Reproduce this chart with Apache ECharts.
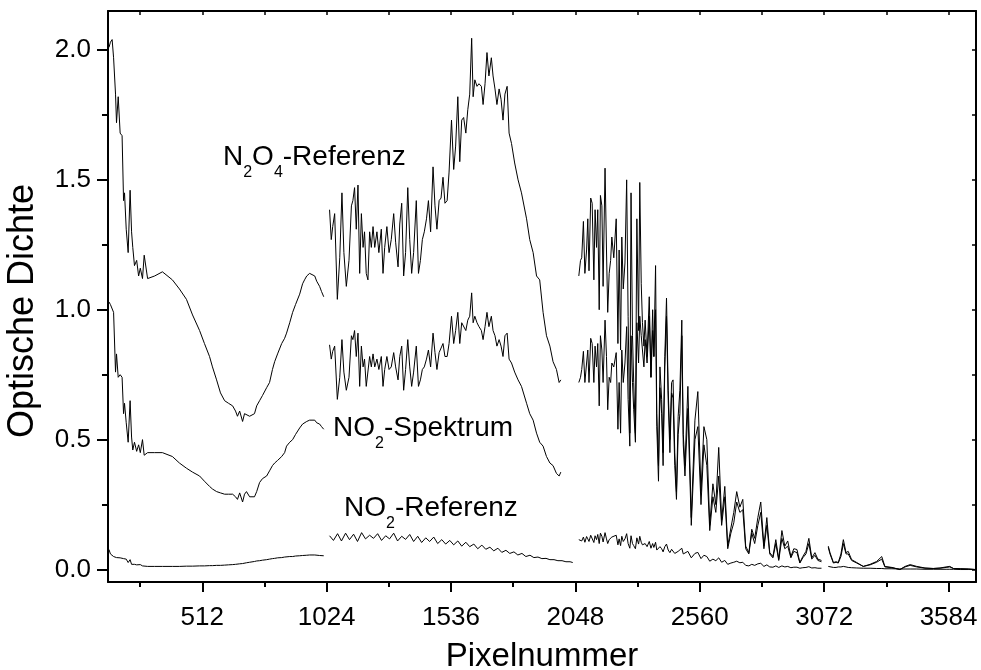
<!DOCTYPE html>
<html><head><meta charset="utf-8">
<script src="https://cdn.jsdelivr.net/npm/echarts@6/dist/echarts.min.js"></script>
<style>html,body{margin:0;padding:0;background:#fff}#c{width:981px;height:670px}</style>
</head><body><div id="c"></div>
<script>
// ---- tick labels ----
const xTickLabels = [512, 1024, 1536, 2048, 2560, 3072, 3584];
const xMinorTicks = [256, 768, 1280, 1792, 2304, 2816, 3328];
const yTickLabels = [0, 0.5, 1.0, 1.5, 2.0];
const yMinorTicks = [0.25, 0.75, 1.25, 1.75];

// ---- segment 1 ----
const seg1X = [128,134,141,147,155,159,166,174,182,188,192,199,207,215,221,226,233,242,250,257,266,273,287,316,348,389,418,447,472,501,521,542,554,571,587,604,620,637,649,657,666,678,686,694,707,715,727,736,748,760,777,789,801,810,822,839,851,859,872,884,896,913,925,933,942,954,962,975,983,995,1003,1012];
const n2o4Seg1 = [2.01,2.03,2.04,1.97,1.83,1.72,1.82,1.68,1.67,1.42,1.45,1.31,1.22,1.46,1.30,1.24,1.17,1.19,1.13,1.16,1.12,1.21,1.12,1.13,1.146,1.115,1.08,1.04,0.98,0.92,0.87,0.82,0.78,0.73,0.68,0.65,0.64,0.63,0.61,0.59,0.61,0.57,0.60,0.60,0.59,0.585,0.60,0.63,0.65,0.67,0.70,0.72,0.77,0.80,0.83,0.87,0.89,0.91,0.95,0.99,1.02,1.06,1.10,1.115,1.13,1.14,1.135,1.13,1.11,1.09,1.07,1.05];
const no2SpekSeg1 = [1.03,1.02,1.02,0.99,0.76,0.83,0.74,0.75,0.74,0.60,0.64,0.565,0.49,0.65,0.51,0.46,0.49,0.455,0.48,0.45,0.50,0.44,0.45,0.45,0.45,0.435,0.41,0.39,0.375,0.36,0.34,0.32,0.31,0.30,0.295,0.29,0.29,0.29,0.28,0.27,0.295,0.26,0.29,0.30,0.28,0.28,0.28,0.30,0.335,0.35,0.36,0.38,0.40,0.41,0.42,0.435,0.45,0.475,0.49,0.50,0.52,0.545,0.56,0.565,0.57,0.575,0.575,0.575,0.565,0.56,0.55,0.54];
const no2RefSeg1 = [0.077,0.06,0.055,0.05,0.05,0.046,0.042,0.045,0.038,0.042,0.035,0.04,0.027,0.038,0.02,0.019,0.02,0.018,0.016,0.019,0.014,0.012,0.012,0.012,0.012,0.012,0.012,0.013,0.013,0.014,0.014,0.015,0.015,0.016,0.016,0.017,0.018,0.019,0.02,0.021,0.022,0.023,0.025,0.026,0.028,0.03,0.031,0.033,0.034,0.036,0.038,0.04,0.042,0.043,0.045,0.046,0.048,0.049,0.05,0.05,0.052,0.053,0.054,0.055,0.055,0.056,0.055,0.056,0.055,0.054,0.055,0.053];

// ---- segment 2 ----
const seg2X = [1036,1043,1049,1057,1068,1078,1087,1095,1105,1116,1126,1132,1139,1146,1153,1160,1167,1174,1180,1187,1194,1201,1208,1215,1222,1231,1239,1249,1256,1263,1272,1281,1290,1300,1308,1318,1325,1333,1341,1349,1358,1366,1374,1382,1393,1402,1410,1418,1426,1435,1443,1452,1462,1470,1478,1487,1495,1503,1511,1520,1528,1538,1547,1555,1564,1572,1580,1588,1597,1605,1613,1621,1627,1634,1643,1651,1661,1668,1676,1684,1692,1702,1709,1717,1725,1734,1742,1750,1758,1767,1775,1785,1798,1812,1826,1847,1860,1874,1888,1901,1915,1929,1943,1956,1970,1981,1988];
const n2o4Seg2 = [1.385,1.27,1.32,1.37,1.04,1.20,1.45,1.22,1.09,1.19,1.40,1.42,1.47,1.31,1.48,1.14,1.37,1.24,1.30,1.14,1.115,1.30,1.24,1.32,1.24,1.30,1.22,1.31,1.14,1.24,1.32,1.22,1.27,1.37,1.26,1.165,1.33,1.41,1.13,1.22,1.47,1.27,1.14,1.22,1.42,1.14,1.19,1.27,1.30,1.35,1.42,1.30,1.55,1.40,1.31,1.42,1.43,1.51,1.41,1.42,1.53,1.73,1.54,1.63,1.82,1.57,1.73,1.74,1.68,1.77,1.83,2.045,1.82,1.885,1.86,1.87,1.86,1.79,1.87,1.99,1.90,1.97,1.90,1.85,1.79,1.85,1.81,1.73,1.83,1.86,1.68,1.64,1.565,1.50,1.45,1.35,1.27,1.22,1.13,1.115,0.99,0.90,0.86,0.80,0.77,0.72,0.73];
const no2SpekSeg2 = [0.865,0.81,0.84,0.86,0.655,0.74,0.885,0.76,0.69,0.74,0.90,0.885,0.92,0.82,0.91,0.705,0.86,0.78,0.81,0.705,0.705,0.82,0.78,0.83,0.78,0.81,0.77,0.82,0.705,0.77,0.82,0.77,0.78,0.835,0.78,0.73,0.82,0.86,0.69,0.77,0.885,0.78,0.705,0.76,0.86,0.705,0.73,0.77,0.78,0.81,0.845,0.78,0.91,0.835,0.77,0.835,0.835,0.87,0.82,0.82,0.87,0.975,0.87,0.92,0.99,0.87,0.95,0.95,0.92,0.96,0.975,1.065,0.95,0.975,0.95,0.935,0.92,0.885,0.935,0.99,0.935,0.975,0.92,0.90,0.86,0.885,0.86,0.82,0.90,0.91,0.81,0.795,0.76,0.73,0.705,0.64,0.60,0.575,0.525,0.49,0.475,0.435,0.41,0.40,0.37,0.36,0.375];
const seg2RefX = [1036,1052,1069,1085,1102,1118,1135,1151,1168,1184,1201,1217,1234,1250,1267,1283,1300,1316,1333,1349,1366,1382,1399,1415,1432,1448,1465,1481,1498,1514,1531,1547,1564,1580,1597,1613,1630,1646,1663,1679,1696,1712,1729,1745,1762,1778,1795,1811,1828,1844,1861,1877,1894,1910,1927,1943,1960,1976,1993,2009,2026,2037];
const no2RefSeg2 = [0.13,0.112,0.138,0.11,0.14,0.115,0.136,0.108,0.142,0.118,0.132,0.12,0.138,0.112,0.13,0.118,0.14,0.11,0.128,0.116,0.135,0.108,0.128,0.104,0.122,0.108,0.125,0.1,0.115,0.098,0.112,0.095,0.11,0.09,0.105,0.088,0.098,0.08,0.094,0.078,0.086,0.072,0.082,0.066,0.074,0.062,0.068,0.056,0.062,0.05,0.055,0.046,0.048,0.042,0.043,0.038,0.038,0.034,0.034,0.03,0.03,0.027];

// ---- segment 3 ----
const seg3X = [2062,2069,2074,2081,2087,2094,2099,2104,2111,2117,2124,2129,2135,2140,2146,2151,2157,2162,2170,2176,2181,2187,2193,2198,2206,2216,2223,2228,2234,2239,2245,2252,2259,2265,2272,2277,2283,2288,2295,2301,2308,2313,2319,2324,2330,2335,2343,2352,2359,2366,2371,2378,2383,2390,2396,2403,2409,2416,2423,2430,2437,2444,2450,2457,2464,2471,2478,2486,2492,2499,2511,2525,2540,2552,2565,2577,2589,2601,2614,2626,2638,2650,2663,2675,2688,2700,2712,2725,2737,2749,2762,2774,2786,2799,2811,2824,2836,2848,2861,2873,2885,2898,2910,2922,2935,2947,2960,2972,2984,2997,3009,3021,3034,3046,3061];
const n2o4Seg3 = [1.13,1.19,1.20,1.34,1.14,1.23,1.35,1.15,1.43,1.41,1.115,1.385,1.24,1.385,1.0,1.44,1.40,1.09,1.545,1.23,0.99,1.14,1.19,1.28,1.20,1.35,0.87,1.23,0.845,1.28,1.08,1.18,1.50,0.975,0.525,1.45,0.90,0.72,0.525,1.35,0.92,1.49,1.10,0.95,0.86,0.96,0.82,1.05,0.74,1.0,0.82,1.17,0.60,0.40,0.78,0.655,0.45,0.82,1.045,0.69,0.50,0.72,0.73,0.45,0.30,0.59,0.69,0.96,0.52,0.40,0.705,0.20,0.575,0.685,0.30,0.55,0.50,0.17,0.33,0.25,0.47,0.19,0.32,0.09,0.16,0.22,0.30,0.24,0.27,0.09,0.065,0.155,0.12,0.20,0.26,0.09,0.20,0.065,0.05,0.115,0.04,0.15,0.09,0.11,0.05,0.08,0.077,0.027,0.05,0.07,0.12,0.045,0.065,0.04,0.035];
const no2SpekSeg3 = [0.72,0.74,0.77,0.84,0.72,0.795,0.845,0.72,0.89,0.87,0.72,0.86,0.78,0.87,0.63,0.90,0.845,0.72,0.96,0.82,0.615,0.74,0.72,0.795,0.78,0.835,0.54,0.72,0.525,0.845,0.72,0.795,0.935,0.655,0.475,0.90,0.72,0.615,0.49,0.95,0.795,0.975,0.90,0.845,0.78,0.885,0.795,0.975,0.74,0.92,0.82,1.0,0.55,0.34,0.70,0.60,0.40,0.78,0.975,0.65,0.45,0.68,0.66,0.40,0.27,0.52,0.60,0.90,0.48,0.36,0.62,0.17,0.50,0.55,0.25,0.48,0.40,0.15,0.28,0.22,0.36,0.17,0.28,0.08,0.14,0.18,0.26,0.22,0.23,0.08,0.06,0.14,0.10,0.17,0.22,0.08,0.17,0.06,0.045,0.10,0.035,0.12,0.08,0.09,0.045,0.07,0.065,0.025,0.045,0.06,0.10,0.04,0.055,0.035,0.03];
const no2RefSeg3 = [0.115,0.12,0.11,0.125,0.105,0.127,0.118,0.108,0.132,0.125,0.104,0.13,0.115,0.135,0.1,0.14,0.128,0.106,0.142,0.118,0.1,0.115,0.12,0.125,0.118,0.132,0.095,0.118,0.092,0.128,0.108,0.118,0.138,0.1,0.082,0.13,0.1,0.092,0.08,0.122,0.098,0.128,0.105,0.095,0.09,0.1,0.088,0.108,0.082,0.1,0.085,0.105,0.075,0.068,0.088,0.08,0.068,0.088,0.098,0.075,0.065,0.078,0.076,0.062,0.055,0.07,0.072,0.082,0.06,0.055,0.07,0.045,0.062,0.066,0.042,0.055,0.05,0.032,0.04,0.034,0.045,0.028,0.035,0.02,0.025,0.028,0.032,0.026,0.028,0.016,0.014,0.02,0.016,0.022,0.024,0.012,0.018,0.01,0.009,0.014,0.008,0.014,0.01,0.012,0.007,0.009,0.009,0.005,0.007,0.008,0.011,0.006,0.007,0.005,0.005];

// ---- segment 4 ----
const seg4X = [3089,3096,3110,3121,3130,3141,3151,3162,3171,3185,3206,3233,3261,3288,3309,3322,3351,3384,3405,3426,3453,3487,3521,3549,3574,3589,3604,3632,3665,3695];
const n2o4Seg4 = [0.09,0.065,0.027,0.03,0.027,0.06,0.115,0.065,0.07,0.038,0.027,0.012,0.02,0.031,0.05,0.012,0.008,0.0,0.012,0.019,0.012,0.006,0.004,0.006,0.01,0.012,0.004,0.003,0.002,0.0];
const no2SpekSeg4 = [0.085,0.06,0.025,0.028,0.025,0.05,0.10,0.06,0.06,0.035,0.025,0.012,0.018,0.028,0.04,0.01,0.007,0.0,0.01,0.016,0.01,0.005,0.004,0.005,0.008,0.01,0.004,0.003,0.002,0.0];
const no2RefSeg4 = [0.012,0.01,0.008,0.008,0.01,0.01,0.012,0.01,0.008,0.007,0.006,0.005,0.005,0.004,0.004,0.003,0.003,0.002,0.002,0.002,0.002,0.001,0.001,0.001,0.001,0.001,0.001,0.0,0.0,0.0];

// ---- build ----
const FONT = 'Liberation Sans, Arial, sans-serif';
const X_MIN = 124, X_MAX = 3697, Y_MIN = -0.048, Y_MAX = 2.15;
function pairs(xs, ys) { return xs.map((x, i) => [x, ys[i]]); }
const parts = [
  [seg1X, n2o4Seg1], [seg2X, n2o4Seg2], [seg3X, n2o4Seg3], [seg4X, n2o4Seg4],
  [seg1X, no2SpekSeg1], [seg2X, no2SpekSeg2], [seg3X, no2SpekSeg3], [seg4X, no2SpekSeg4],
  [seg1X, no2RefSeg1], [seg2RefX, no2RefSeg2], [seg3X, no2RefSeg3], [seg4X, no2RefSeg4]
];
const series = parts.map(p => ({
  type: 'line', xAxisIndex: 0, yAxisIndex: 0, data: pairs(p[0], p[1]),
  symbol: 'none', showSymbol: false, silent: true, animation: false,
  lineStyle: { color: '#000', width: 1 }
}));
const lineStyle = { color: '#000', width: 2 };
const allYTicks = [0, 0.25, 0.5, 0.75, 1.0, 1.25, 1.5, 1.75, 2.0];
const allXTicks = [256, 512, 768, 1024, 1280, 1536, 1792, 2048, 2304, 2560, 2816, 3072, 3328, 3584];

const richStyle = {
  a: { fontSize: 28, fontFamily: FONT, lineHeight: 28, verticalAlign: 'top', fill: '#000' },
  b: { fontSize: 16, fontFamily: FONT, lineHeight: 28, verticalAlign: 'top', padding: [22, 0, 0, 0], fill: '#000' }
};
const chart = echarts.init(document.getElementById('c'), null, { renderer: 'canvas' });
chart.setOption({
  animation: false,
  backgroundColor: '#fff',
  grid: { left: 108, right: 5, top: 11, bottom: 88, containLabel: false, outerBoundsMode: 'none' },
  xAxis: [
    { type: 'value', position: 'bottom', min: X_MIN, max: X_MAX,
      axisLine: { show: true, onZero: false, lineStyle },
      axisTick: { show: true, inside: false, length: 10, customValues: xTickLabels, lineStyle: { color: '#000', width: 2 } },
      axisLabel: { show: true, customValues: xTickLabels, fontSize: 26, color: '#000', fontFamily: FONT, margin: 23,
        formatter: v => String(Math.round(v)) },
      splitLine: { show: false },
      name: 'Pixelnummer', nameLocation: 'middle', nameGap: 58,
      nameTextStyle: { fontSize: 33, color: '#000', fontFamily: FONT } },
    { type: 'value', position: 'bottom', min: X_MIN, max: X_MAX,
      axisLine: { show: false, onZero: false },
      axisTick: { show: true, inside: false, length: 5, customValues: xMinorTicks, lineStyle: { color: '#000', width: 2 } },
      axisLabel: { show: false }, splitLine: { show: false } },
    { type: 'value', position: 'top', min: X_MIN, max: X_MAX,
      axisLine: { show: true, onZero: false, lineStyle },
      axisTick: { show: true, inside: true, length: 4, customValues: allXTicks, lineStyle: { color: '#000', width: 1.5 } },
      axisLabel: { show: false }, splitLine: { show: false } }
  ],
  yAxis: [
    { type: 'value', position: 'left', min: Y_MIN, max: Y_MAX,
      axisLine: { show: true, onZero: false, lineStyle },
      axisTick: { show: true, inside: false, length: 11, customValues: yTickLabels, lineStyle: { color: '#000', width: 2 } },
      axisLabel: { show: true, customValues: yTickLabels, fontSize: 26, color: '#000', fontFamily: FONT, margin: 17,
        formatter: v => Number(v).toFixed(1) },
      splitLine: { show: false } },
    { type: 'value', position: 'left', min: Y_MIN, max: Y_MAX,
      axisLine: { show: false, onZero: false },
      axisTick: { show: true, inside: false, length: 6, customValues: yMinorTicks, lineStyle: { color: '#000', width: 2 } },
      axisLabel: { show: false }, splitLine: { show: false } },
    { type: 'value', position: 'right', min: Y_MIN, max: Y_MAX,
      axisLine: { show: true, onZero: false, lineStyle },
      axisTick: { show: true, inside: true, length: 4, customValues: allYTicks, lineStyle: { color: '#000', width: 1.5 } },
      axisLabel: { show: false }, splitLine: { show: false } }
  ],
  graphic: [
    { type: 'text', x: 23, y: 311, rotation: Math.PI / 2, silent: true,
      style: { text: 'Optische Dichte', fontSize: 36, fontFamily: FONT, fill: '#000', align: 'center', verticalAlign: 'middle' } },
    { type: 'text', x: 223, y: 143, silent: true,
      style: { text: '{a|N}{b|2}{a|O}{b|4}{a|-Referenz}', fill: '#000', rich: richStyle } },
    { type: 'text', x: 333, y: 414, silent: true,
      style: { text: '{a|NO}{b|2}{a|-Spektrum}', fill: '#000', rich: richStyle } },
    { type: 'text', x: 344, y: 494, silent: true,
      style: { text: '{a|NO}{b|2}{a|-Referenz}', fill: '#000', rich: richStyle } }
  ],
  series
});
</script></body></html>
